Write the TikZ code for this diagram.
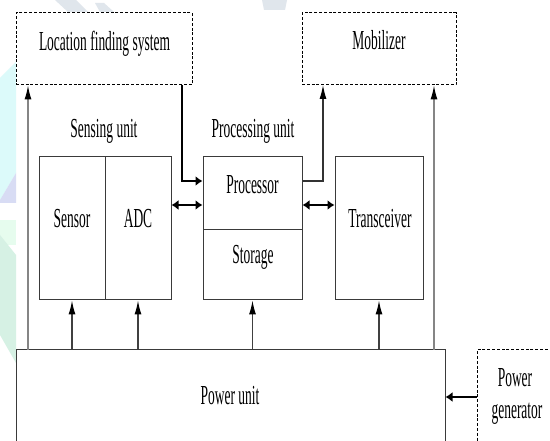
\documentclass[tikz,border=0pt]{standalone}
\usepackage{fontspec}
\newfontfamily\labfont[FakeStretch=0.49]{Liberation Serif}
\usetikzlibrary{arrows.meta}
\definecolor{wmcyan}{HTML}{DCFAFA}
\definecolor{wmlav}{HTML}{D8DCF4}
\definecolor{wmgreen}{HTML}{E6FCEE}
\definecolor{wmmint}{HTML}{D6F1E4}
\definecolor{wmgrey}{HTML}{E0E6EC}
\definecolor{boxline}{HTML}{3A3A3A}
\definecolor{conline}{HTML}{858585}
\tikzset{
  solidbox/.style={draw=boxline, line width=1pt, inner sep=0pt},
  dashbox/.style={draw=black, line width=1pt, dash pattern=on 3pt off 1.8pt, inner sep=0pt},
  lab/.style={inner sep=0pt, anchor=base, font=\labfont\fontsize{27.5}{30}\selectfont, text=black},
  arr/.style={draw=conline, line width=1.2pt, -{Latex[length=14pt,width=7pt,color=black]}},
  powarr/.style={draw=black!75, line width=1.2pt, -{Latex[length=14pt,width=7pt,color=black]}},
  thickarr/.style={draw=black, line width=1.8pt, -{Latex[length=7pt,width=10pt]}},
  dblarr/.style={draw=black, line width=1.8pt, {Latex[length=7pt,width=10pt]}-{Latex[length=7pt,width=10pt]}},
}
\begin{document}
\begin{tikzpicture}[x=1pt,y=-1pt]
\useasboundingbox (0,0) rectangle (550,441);
\clip (0,0) rectangle (550,441);
\fill[white] (0,0) rectangle (550,441);
% watermark fragments
\fill[wmcyan] (0,78) -- (16,62) -- (16,173) -- (0,200) -- cycle;
\fill[wmlav] (16,173) -- (16,203) -- (0,203) -- (0,200) -- cycle;
\fill[wmgreen] (0,220) rectangle (16,245);
\fill[wmmint] (0,235) -- (16,255) -- (16,363) -- (0,335) -- cycle;
\fill[wmgrey] (55,0) -- (76,0) -- (88,12) -- (68,12) -- cycle;
\fill[wmgrey] (95,3) -- (104,3) -- (114,12) -- (100,12) -- cycle;
\fill[wmgrey] (262,0) -- (287,0) -- (285,10) -- (264,10) -- cycle;

% boxes
\node[dashbox, minimum width=176pt, minimum height=72pt] (loc) at (104,49) {};
\node[dashbox, minimum width=154pt, minimum height=72pt] (mob) at (379,49) {};
\node[solidbox, minimum width=66pt, minimum height=143pt] (sensor) at (72,228.5) {};
\node[solidbox, minimum width=66pt, minimum height=143pt] (adc) at (138,228.5) {};
\node[solidbox, minimum width=99pt, minimum height=73pt] (proc) at (252.5,193.5) {};
\node[solidbox, minimum width=99pt, minimum height=70pt] (stor) at (252.5,265) {};
\node[solidbox, minimum width=88pt, minimum height=143pt] (trans) at (379,228.5) {};
\node[solidbox, minimum width=429pt, minimum height=130pt] (power) at (230.5,415) {};
\node[dashbox, minimum width=100pt, minimum height=130pt] (gen) at (527,415) {};

% labels
\node[lab] (tloc) at (104.5,51) {Location finding system};
\node[lab] (tmob) at (379,50) {Mobilizer};
\node[lab] (tsens) at (104,138) {Sensing unit};
\node[lab] (tproc) at (253,138) {Processing unit};
\node[lab] (tsensor) at (72,228) {Sensor};
\node[lab] (tadc) at (138,228) {ADC};
\node[lab] (tprocessor) at (252.5,194) {Processor};
\node[lab] (tstor) at (253,264) {Storage};
\node[lab] (ttrans) at (380,228) {Transceiver};
\node[lab] (tpower) at (230,405) {Power unit};
\node[lab] (tgen1) at (515,387) {Power};
\node[lab] (tgen2) at (517,419) {generator};

% connectors
\coordinate (lft) at (28,350);
\coordinate (rgt) at (434,350);
\coordinate (locout) at (182,85);
\coordinate (mobin) at (323,85);
\draw[arr] (lft) -- (lft |- loc.south);
\draw[arr] (rgt) -- (rgt |- mob.south);
\draw[thickarr] (locout) |- (proc.west |- 0,181);
\draw[arr, draw=black!80] (proc.east |- 0,181) -| (mobin);
\draw[dblarr] (adc.east |- 0,205) -- (proc.west |- 0,205);
\draw[dblarr] (proc.east |- 0,205) -- (trans.west |- 0,205);
\draw[powarr] (power.north -| sensor.center) -- (sensor.south);
\draw[powarr] (power.north -| adc.center) -- (adc.south);
\draw[powarr] (power.north -| stor.center) -- (stor.south);
\draw[powarr] (power.north -| trans.center) -- (trans.south);
\draw[thickarr] (gen.west |- 0,397) -- (power.east |- 0,397);
\end{tikzpicture}
\end{document}
